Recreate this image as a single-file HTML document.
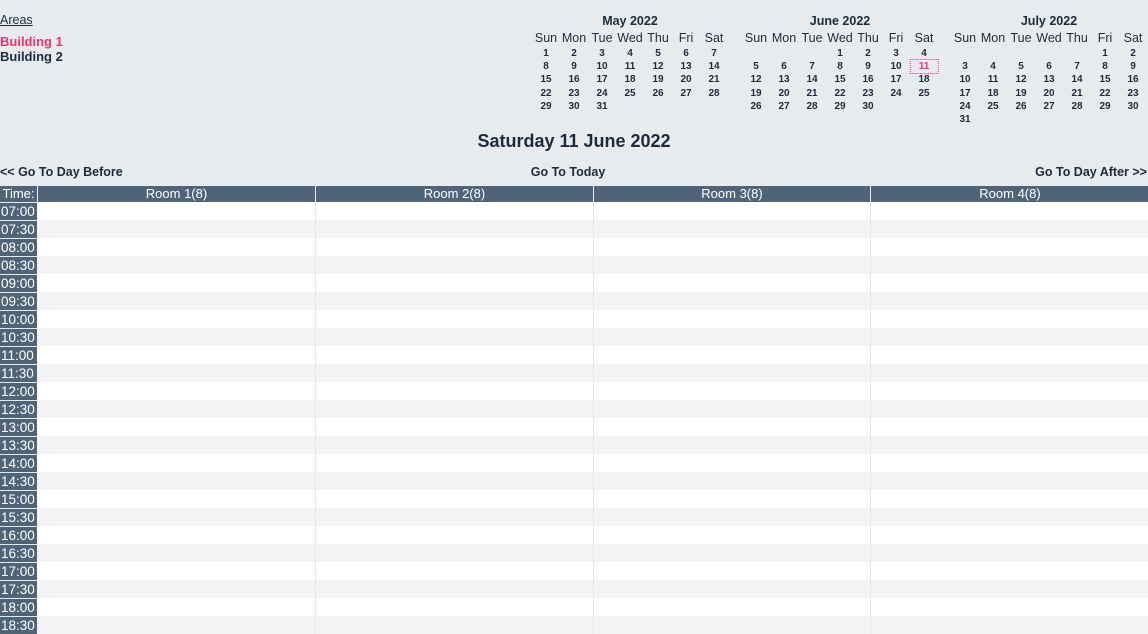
<!DOCTYPE html>
<html><head><meta charset="utf-8">
<style>
body{margin:0;width:1148px;height:634px;background:#e8ebee;font-family:"Liberation Sans",Arial,sans-serif;color:#1c2b3b;position:relative;overflow:hidden}
.a{position:absolute;white-space:nowrap}
.c{transform:translateX(-50%)}
.dn{font-size:12.5px}
.num{font-size:10px;font-weight:bold}
.title{font-size:12.5px;font-weight:bold}
.hdr{background:#4f6577;color:#fff;font-size:13px;text-align:center;line-height:16px}
</style></head><body>
<div class="a" style="left:0;top:13px;font-size:12.5px;text-decoration:underline">Areas</div>
<div class="a" style="left:0;top:34px;font-size:13px;font-weight:bold;color:#e8336d">Building 1</div>
<div class="a" style="left:0;top:49px;font-size:13px;font-weight:bold">Building 2</div>
<div id="cals"></div>
<div class="a c" style="left:574px;top:131px;font-size:18px;font-weight:bold">Saturday 11 June 2022</div>
<div class="a" style="left:0;top:165px;font-size:12.5px;font-weight:bold">&lt;&lt; Go To Day Before</div>
<div class="a c" style="left:568px;top:165px;font-size:12.5px;font-weight:bold">Go To Today</div>
<div class="a" style="right:1px;top:165px;font-size:12.5px;font-weight:bold">Go To Day After &gt;&gt;</div>
<div id="grid"></div>
<script>
const months=["May 2022","June 2022","July 2022"];
const startDay=[0,3,5];
const monthLen=[31,30,31];
const dayNames=["Sun","Mon","Tue","Wed","Thu","Fri","Sat"];
const calSun=[546,756,965];
const rooms=["Room 1(8)","Room 2(8)","Room 3(8)","Room 4(8)"];
const times=["07:00","07:30","08:00","08:30","09:00","09:30","10:00","10:30","11:00","11:30","12:00","12:30","13:00","13:30","14:00","14:30","15:00","15:30","16:00","16:30","17:00","17:30","18:00","18:30"];
const cals=document.getElementById('cals');
function mk(parent,cls,style,txt){const d=document.createElement('div');d.className=cls;d.style.cssText=style;if(txt!==undefined)d.textContent=txt;parent.appendChild(d);return d;}
months.forEach((m,i)=>{
  const x0=calSun[i];
  const t=mk(cals,'a c title','left:'+(x0+84)+'px;top:14px',m);
  
  
  dayNames.forEach((d,j)=>{
    const e=mk(cals,'a c dn','left:'+(x0+j*28)+'px;top:31px',d);
    
    
  });
  for(let d=1;d<=monthLen[i];d++){
    const p=startDay[i]+d-1,col=p%7,row=Math.floor(p/7);
    const sel=(i===1&&d===11);
    const e=mk(cals,'a c num','left:'+(x0+col*28)+'px;top:'+(48+row*13.2)+'px;'+(sel?'color:#e8336d;outline:1px dotted #e8336d;outline-offset:1px;padding:0 7px;':''),String(d));
    
    
  }
});
const g=document.getElementById('grid');
const colX=[0,38,316,594,871,1150];
let h=mk(g,'a hdr','left:0;top:186px;width:37px;height:16px','Time:');


rooms.forEach((r,i)=>{
  const e=mk(g,'a hdr','left:'+colX[i+1]+'px;top:186px;width:'+(colX[i+2]-colX[i+1]-1)+'px;height:16px',r);
  
  
});
times.forEach((t,k)=>{
  const y=202+k*18;
  const bg=k%2?'#f2f3f5':'#ffffff';
  const row=mk(g,'a','left:37px;top:'+y+'px;width:1111px;height:18px;background:'+bg);
  
  
  const tc=mk(g,'a hdr','left:0;top:'+(y+1)+'px;width:37px;height:17px;line-height:17px;font-size:13.5px;text-align:left;padding-left:1px;box-sizing:border-box',t);
  
  
});
[315,593,870].forEach(x=>{
  const l=mk(g,'a','left:'+x+'px;top:202px;width:1px;height:432px;background:#e3e6ea');
  
  
});
</script>
</body></html>
